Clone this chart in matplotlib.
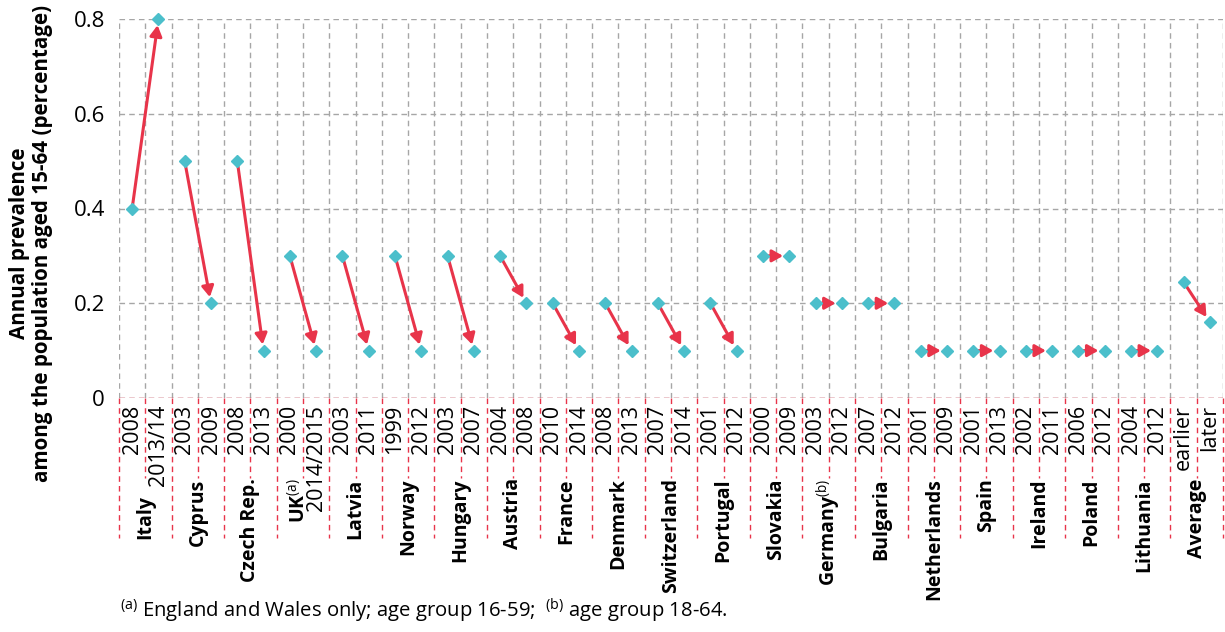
import matplotlib
matplotlib.use('Agg')
import matplotlib.pyplot as plt
import matplotlib.transforms as mtransforms

plt.rcParams['font.family'] = ['Open Sans', 'DejaVu Sans']
plt.rcParams['mathtext.fontset'] = 'custom'
plt.rcParams['mathtext.rm'] = 'Open Sans'
plt.rcParams['mathtext.it'] = 'Open Sans:italic'
plt.rcParams['mathtext.bf'] = 'Open Sans:bold'

countries = ['Italy', 'Cyprus', 'Czech Rep.', 'UK$^{\\mathrm{(a)}}$', 'Latvia', 'Norway',
             'Hungary', 'Austria', 'France', 'Denmark', 'Switzerland', 'Portugal',
             'Slovakia', 'Germany$^{\\mathrm{(b)}}$', 'Bulgaria', 'Netherlands', 'Spain',
             'Ireland', 'Poland', 'Lithuania', 'Average']
years_earlier = ['2008', '2003', '2008', '2000', '2003', '1999', '2003', '2004', '2010',
                 '2008', '2007', '2001', '2000', '2003', '2007', '2001', '2001', '2002',
                 '2006', '2004', 'earlier']
years_later = ['2013/14', '2009', '2013', '2014/2015', '2011', '2012', '2007', '2008',
               '2014', '2013', '2014', '2012', '2009', '2012', '2012', '2009', '2013',
               '2011', '2012', '2012', 'later']
prev_earlier = [0.4, 0.5, 0.5, 0.3, 0.3, 0.3, 0.3, 0.3, 0.2, 0.2, 0.2, 0.2, 0.3, 0.2,
                0.2, 0.1, 0.1, 0.1, 0.1, 0.1, 0.245]
prev_later = [0.8, 0.2, 0.1, 0.1, 0.1, 0.1, 0.1, 0.2, 0.1, 0.1, 0.1, 0.1, 0.3, 0.2,
              0.2, 0.1, 0.1, 0.1, 0.1, 0.1, 0.16]

red = '#E8344A'
cyan = '#4BBFCB'
grey = '#A6A6A6'
dash = (0, (4, 3))

fig = plt.figure(figsize=(12.25, 6.32), dpi=100)
ax = fig.add_axes([119 / 1225, (632 - 398) / 632, (1223 - 119) / 1225, 379 / 632])

n = len(countries)
ax.set_xlim(-0.5, 2 * n - 0.5)
ax.set_ylim(0, 0.8)

# grid at slot boundaries
ax.set_xticks([b - 0.5 for b in range(2 * n + 1)])
ax.set_xticklabels([])
ax.set_yticks([0, 0.2, 0.4, 0.6, 0.8])
ax.set_yticklabels(['0', '0.2', '0.4', '0.6', '0.8'], fontsize=16)
ax.tick_params(length=0, pad=10)
ax.grid(True, color=grey, linestyle=dash, linewidth=1)
ax.set_axisbelow(True)
for s in ax.spines.values():
    s.set_visible(False)

ax.axhline(0, color=red, linestyle=dash, linewidth=1, zorder=2)

# category separators: short ones inside a country, long ones between countries
trans = mtransforms.blended_transform_factory(ax.transData, ax.transAxes)
for b in range(2 * n + 1):
    bottom = -0.369 if b % 2 == 0 else -0.211
    ax.plot([b - 0.5, b - 0.5], [0, bottom], transform=trans, clip_on=False,
            color=red, linestyle=dash, linewidth=1)

xs, ys = [], []
for i in range(n):
    x0, x1 = 2 * i, 2 * i + 1
    ax.annotate('', xy=(x1, prev_later[i]), xytext=(x0, prev_earlier[i]),
                arrowprops=dict(arrowstyle='-|>,head_length=0.32,head_width=0.18',
                                color=red, lw=2.2, shrinkA=0, shrinkB=4.5,
                                mutation_scale=20), zorder=3)
    xs += [x0, x1]
    ys += [prev_earlier[i], prev_later[i]]
    ax.text(x0, -0.018, years_earlier[i], transform=trans, rotation=90,
            ha='center', va='top', fontsize=15.5)
    ax.text(x1, -0.018, years_later[i], transform=trans, rotation=90,
            ha='center', va='top', fontsize=15.5)
    ty = -0.256 if i == 0 else -0.212
    cx = x0 + 0.5
    if i == 3:
        cx -= 0.2  # keep the UK superscript clear of "2014/2015"
    ax.text(cx, ty, countries[i], transform=trans, rotation=90,
            ha='center', va='top', fontsize=14, fontweight='bold')

ax.plot(xs, ys, 'D', color=cyan, markersize=6.2, linestyle='none', zorder=5,
        clip_on=False)

fig.text(31 / 1225, 1 - 243 / 632,
         'Annual prevalence\namong the population aged 15-64 (percentage)',
         rotation=90, ha='center', va='center', multialignment='center',
         fontsize=14.9, fontweight='bold', linespacing=1.1)

fig.text(120 / 1225, 1 - 611 / 632,
         '$^{\\mathrm{(a)}}$ England and Wales only; age group 16-59;  '
         '$^{\\mathrm{(b)}}$ age group 18-64.',
         ha='left', va='center', fontsize=14.6)

fig.savefig('out.png', dpi=100)
